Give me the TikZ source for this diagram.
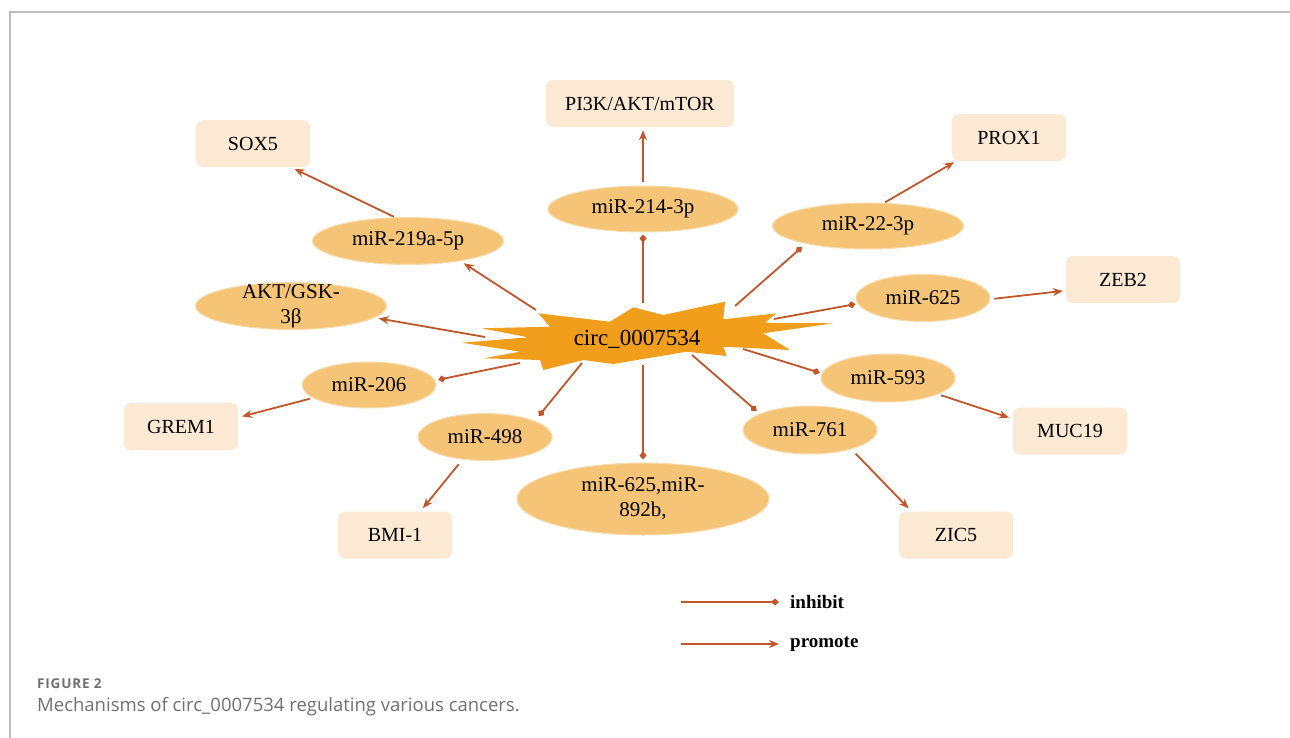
\documentclass[tikz,border=0pt]{standalone}
\usepackage{fontspec}
\setmainfont{Liberation Serif}
\newfontfamily\capfont{Open Sans}
\newfontfamily\figfont[LetterSpace=6]{Open Sans}
\usetikzlibrary{shapes.geometric,arrows.meta}
\definecolor{arr}{HTML}{C0562A}
\definecolor{elfill}{HTML}{F5C477}
\definecolor{boxfill}{HTML}{FCE9D3}
\definecolor{burst}{HTML}{F19E1D}
\definecolor{capgray}{HTML}{707070}
\definecolor{framegray}{HTML}{BDBDBD}
\tikzset{
  mirna/.style={ellipse, fill=elfill, draw=elfill!60!white, line width=1pt, inner sep=0pt},
  lab/.style={font=\fontsize{21}{25}\selectfont, align=center, inner sep=0pt},
  tbox/.style={rectangle, rounded corners=7pt, fill=boxfill, minimum width=114pt, minimum height=47pt, inner sep=0pt, font=\fontsize{20}{24}\selectfont},
  inh/.style={draw=arr, line width=1.8pt, -{Diamond[length=8pt,width=7pt]}},
  pro/.style={draw=arr, line width=1.8pt, -{Stealth[length=10pt,width=8pt]}},
  legtext/.style={anchor=west, inner sep=0pt, font=\bfseries\fontsize{19}{22}\selectfont},
}
\begin{document}
\begin{tikzpicture}[x=1pt,y=-1pt]
\useasboundingbox (0,0) rectangle (1290,738);
% frame
\draw[framegray, line width=1.2pt] (10,738) -- (10,12) -- (1290,12);

% boxes
\node[tbox, minimum width=188pt] (pik) at (640,103.5) {PI3K/AKT/mTOR};
\node[tbox] (sox)  at (253,143.5) {SOX5};
\node[tbox] (prox) at (1009,137.5) {PROX1};
\node[tbox] (zeb)  at (1123,279.5) {ZEB2};
\node[tbox] (grem) at (181,426.5) {GREM1};
\node[tbox] (muc)  at (1070,431) {MUC19};
\node[tbox] (bmi)  at (395,535) {BMI-1};
\node[tbox] (zic)  at (956,535) {ZIC5};

% ellipses
\node[mirna, minimum width=190pt, minimum height=46pt, label={[lab]center:miR-214-3p}] (m214) at (643,209) {};
\node[mirna, minimum width=191pt, minimum height=47pt, label={[lab]center:miR-219a-5p}] (m219) at (408,241) {};
\node[mirna, minimum width=191pt, minimum height=46pt, label={[lab]center:miR-22-3p}] (m22) at (868,226) {};
\node[mirna, minimum width=191pt, minimum height=47pt, label={[lab]center:AKT/GSK-\\3β}] (akt) at (291,306) {};
\node[mirna, minimum width=134pt, minimum height=47pt, label={[lab]center:miR-625}] (m625) at (923,298) {};
\node[mirna, minimum width=134pt, minimum height=46pt, label={[lab]center:miR-206}] (m206) at (369,385) {};
\node[mirna, minimum width=134pt, minimum height=47pt, label={[lab]center:miR-498}] (m498) at (485,437) {};
\node[mirna, minimum width=134pt, minimum height=48pt, label={[lab]center:miR-593}] (m593) at (888,378) {};
\node[mirna, minimum width=134pt, minimum height=48pt, label={[lab]center:miR-761}] (m761) at (810,430) {};
\node[mirna, minimum width=252pt, minimum height=72pt, label={[lab]center:miR-625,miR-\\892b,}] (m892) at (643,499) {};

% starburst
\fill[burst] (461.7,342.7) -- (528.3,337.3) -- (481.7,328.3) -- (550,326.7) -- (538.3,313.3)
  -- (610,321.7) -- (633.3,307.3) -- (663.3,315) -- (725,301.7) -- (723.3,319.3)
  -- (776.7,313.3) -- (765,322.7) -- (833.3,323.3) -- (763.3,333.3) -- (790,350)
  -- (723.3,346.7) -- (726.7,356) -- (686.7,351.7) -- (613.3,364) -- (583.3,360)
  -- (543.3,370) -- (540,360) -- (483.3,358.3) -- (520,351.7) -- cycle;
\node[inner sep=0pt, font=\fontsize{23}{27}\selectfont] (c) at (637,339) {circ\_0007534};

% start points on the starburst
\coordinate (s214) at (643,303);
\coordinate (s219) at (536,310);
\coordinate (s22)  at (735,306);
\coordinate (sakt) at (485,337);
\coordinate (s625) at (774,319);
\coordinate (s206) at (520,363);
\coordinate (s593) at (743,349);
\coordinate (s498) at (582,363);
\coordinate (s892) at (643,365);
\coordinate (s761) at (692,355);

% circ -> miRNAs
\draw[inh, shorten >=2pt] (s214) -- (m214.south);
\draw[pro, shorten >=4pt] (s219) -- (m219.-21);
\draw[inh, shorten >=5pt] (s22) -- (m22.196);
\draw[pro, shorten >=4pt] (sakt) -- (akt.-8);
\draw[inh, shorten >=2pt] (s625) -- (m625.185);
\draw[inh, shorten >=3pt] (s206) -- (m206.4);
\draw[inh, shorten >=2pt] (s593) -- (m593.176);
\draw[inh, shorten >=6pt] (s498) -- (m498.18);
\draw[inh, shorten >=3pt] (s892) -- (m892.north);
\draw[inh, shorten >=4pt] (s761) -- (m761.162);

% miRNAs -> targets
\draw[pro, shorten <=3pt, shorten >=3pt] (m214.north) -- (m214.north |- pik.south);
\draw[pro, shorten <=1pt, shorten >=4pt] (m219.119) -- (sox.-32);
\draw[pro, shorten <=1pt, shorten >=2pt] (m22.55) -- (prox.204);
\draw[pro, shorten <=4pt, shorten >=3pt] (m625.-1) -- (zeb.191);
\draw[pro, shorten <=3pt, shorten >=4pt] (m206.193) -- (grem.9);
\draw[pro, shorten <=6pt, shorten >=4pt] (m498.225) -- (bmi.43);
\draw[pro, shorten <=3pt, shorten >=4pt] (m593.-18) -- (muc.168);
\draw[pro, shorten <=6pt, shorten >=4pt] (m761.-25) -- (zic.152);

% legend
\node[legtext] (linh) at (790,602) {inhibit};
\node[legtext] (lpro) at (790,644) {promote};
\coordinate (li0) at (681,602);
\coordinate (lp0) at (681,644);
\draw[inh, shorten >=11pt] (li0) -- (linh.west);
\draw[pro, shorten >=11pt] (lp0) -- (lpro.west);

% caption
\node[anchor=west, inner sep=0pt, font=\figfont\bfseries\fontsize{13.5}{16}\selectfont, text=capgray] (figlab) at (37,684) {FIGURE 2};
\node[anchor=west, inner sep=0pt, font=\capfont\fontsize{18.5}{22}\selectfont, text=capgray] (cap) at (37,707) {Mechanisms of circ\_0007534 regulating various cancers.};
\end{tikzpicture}
\end{document}
